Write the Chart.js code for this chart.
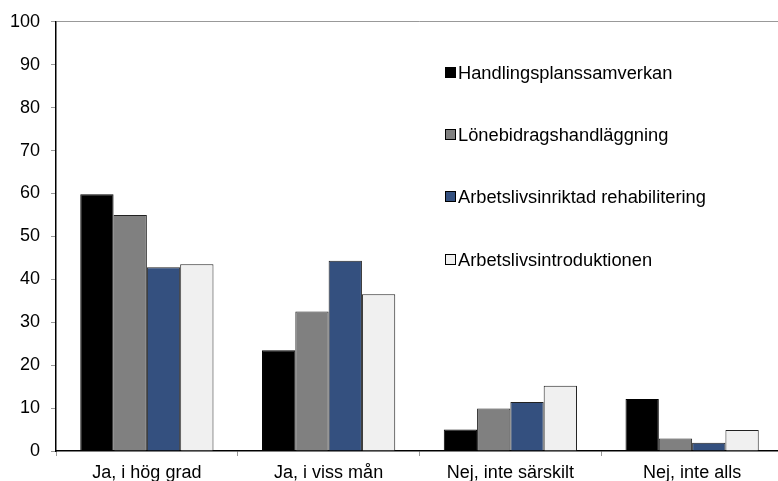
<!DOCTYPE html>
<html>
<head>
<meta charset="utf-8">
<script src="https://cdn.jsdelivr.net/npm/chart.js@4/dist/chart.umd.min.js"></script>
<style>
html,body{margin:0;padding:0;background:#fff;overflow:hidden;}
#wrap{width:784px;height:481px;}
</style>
</head>
<body>
<div id="wrap"><canvas id="c" width="784" height="481"></canvas></div>
<script>
const categories = ["Ja, i hög grad", "Ja, i viss mån", "Nej, inte särskilt", "Nej, inte alls"];
const seriesNames = ["Handlingsplanssamverkan", "Lönebidragshandläggning", "Arbetslivsinriktad rehabilitering", "Arbetslivsintroduktionen"];
const handlingsplanssamverkan = [59.8, 23.5, 5.0, 12.1];
const lonebidragshandlaggning = [55.0, 32.5, 9.9, 2.9];
const arbetslivsinriktadRehab = [42.8, 44.3, 11.4, 1.9];
const arbetslivsintroduktionen = [43.5, 36.5, 15.2, 4.9];
const seriesValues = [handlingsplanssamverkan, lonebidragshandlaggning, arbetslivsinriktadRehab, arbetslivsintroduktionen];
const seriesColors = ["#000000", "#808080", "#34507f", "#f0f0f0"];
const yTicks = [0,10,20,30,40,50,60,70,80,90,100];

const FONT = "'Liberation Sans', Arial, sans-serif";

const legendPlugin = {
  id: 'insideLegend',
  afterDraw(chart) {
    const ctx = chart.ctx;
    const ys = [73, 135, 197, 260];
    ctx.save();
    ctx.font = "18.3px " + FONT;
    ctx.textBaseline = 'middle';
    ctx.textAlign = 'left';
    chart.data.datasets.forEach((ds, i) => {
      const y = ys[i];
      ctx.fillStyle = ds.backgroundColor;
      ctx.fillRect(445.5, y - 5.5, 10, 10);
      ctx.strokeStyle = '#000';
      ctx.lineWidth = 1;
      ctx.strokeRect(445.5, y - 5.5, 10, 10);
      ctx.fillStyle = '#000';
      ctx.fillText(ds.label, 458, y + 1);
    });
    ctx.restore();
  }
};

new Chart(document.getElementById('c'), {
  type: 'bar',
  data: {
    labels: categories,
    datasets: seriesNames.map((n, i) => ({
      label: n,
      data: seriesValues[i],
      backgroundColor: seriesColors[i],
      borderColor: i === 0 ? '#000' : '#222',
      borderWidth: 1,
      borderSkipped: 'bottom',
      barPercentage: 1.0,
      categoryPercentage: 0.733
    }))
  },
  options: {
    responsive: false,
    animation: false,
    layout: { padding: { top: 21, right: 1, left: 0, bottom: 0 } },
    plugins: { legend: { display: false }, tooltip: { enabled: false } },
    scales: {
      x: {
        offset: true,
        grid: { offset: true, drawOnChartArea: false, tickLength: 5, color: '#999', tickColor: '#999' },
        border: { color: '#000', width: 1.5 },
        ticks: { font: { family: FONT, size: 18 }, color: '#000', padding: 6, maxRotation: 0 },
        afterFit(scale) { scale.height = 30; }
      },
      y: {
        min: 0, max: 100,
        afterBuildTicks(scale) { scale.ticks = yTicks.map(v => ({ value: v })); },
        grid: {
          drawOnChartArea: true,
          tickLength: 5,
          color: (c) => (c.tick && c.tick.value === 100) ? '#999' : 'rgba(0,0,0,0)',
          tickColor: '#999'
        },
        border: { color: '#000', width: 1.5 },
        ticks: { font: { family: FONT, size: 18 }, color: '#000', padding: 11 },
        afterFit(scale) { scale.width = 56; }
      }
    }
  },
  plugins: [legendPlugin]
});
</script>
</body>
</html>
